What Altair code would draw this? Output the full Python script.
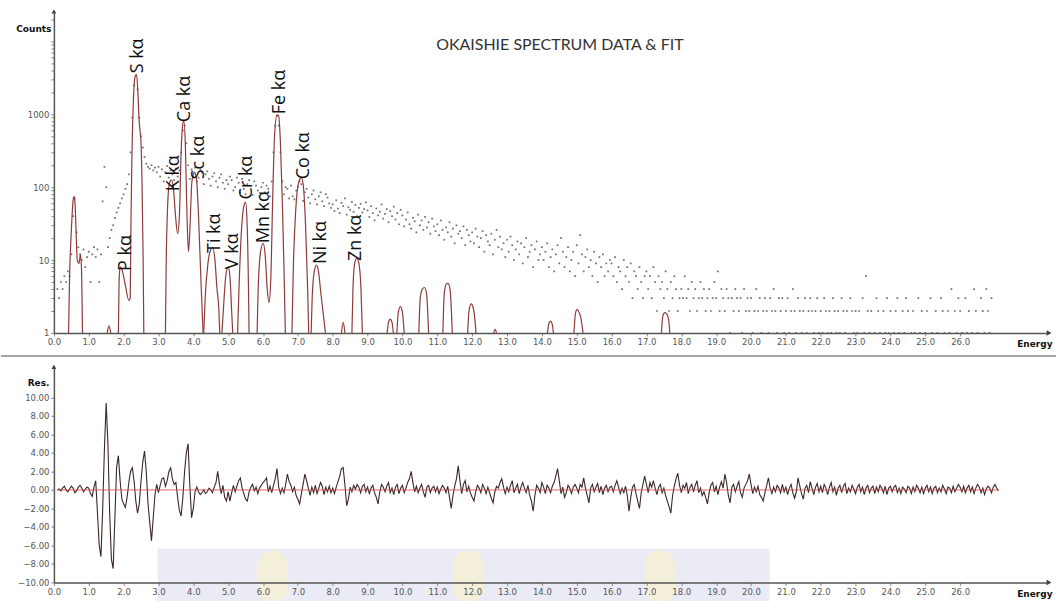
import altair as alt
import numpy as np
import pandas as pd

# ---------------------------------------------------------------
# Spectrum channels: first channel energy and channel width (keV)
# ---------------------------------------------------------------
E_START = 0.10
E_STEP = 0.05

# measured counts per channel (one row per keV)
counts = [
    4, 3, 5, 4, 6, 5, 7, 6, 12, 40, 70, 24, 15, 12, 10, 14, 8, 11,
    13, 5, 12, 15, 11, 14, 5, 12, 64, 190, 100, 15, 20, 26, 30, 38, 45, 52, 60, 70,
    80, 95, 110, 150, 300, 900, 2500, 3400, 2200, 900, 500, 350, 260, 210, 190, 180, 200, 170, 185, 160,
    190, 140, 175, 120, 160, 195, 135, 170, 150, 125, 180, 140, 170, 300, 600, 700, 400, 200, 130, 175,
    150, 185, 120, 135, 175, 160, 110, 150, 165, 130, 105, 140, 155, 120, 100, 135, 150, 115, 95, 125,
    110, 140, 125, 90, 100, 135, 115, 85, 130, 95, 80, 110, 125, 95, 78, 120, 105, 90, 75, 100,
    115, 85, 105, 95, 75, 120, 300, 700, 950, 700, 300, 120, 80, 100, 95, 70, 105, 75, 68, 90,
    100, 120, 110, 65, 85, 95, 72, 60, 80, 90, 68, 58, 75, 85, 64, 55, 80, 72, 60, 52,
    58, 47, 66, 51, 44, 61, 55, 70, 42, 53, 49, 63, 46, 57, 40, 52, 59, 45, 50, 62,
    48, 39, 55, 44, 35, 51, 41, 46, 58, 37, 43, 50, 33, 47, 40, 54, 36, 44, 31, 49,
    41, 29, 36, 45, 31, 27, 38, 34, 24, 42, 30, 35, 26, 39, 28, 33, 23, 37, 29, 25,
    31, 22, 35, 26, 19, 28, 24, 33, 21, 27, 17, 30, 23, 25, 20, 29, 16, 26, 22, 18,
    24, 17, 27, 21, 15, 20, 25, 13, 22, 18, 16, 23, 12, 19, 26, 15, 21, 14, 17, 11,
    19, 13, 21, 16, 10, 14, 18, 12, 17, 9, 15, 20, 11, 13, 16, 8, 14, 18, 10, 12,
    15, 10, 13, 17, 8, 11, 14, 7, 12, 16, 9, 20, 13, 8, 11, 15, 7, 10, 13, 6,
    16, 9, 22, 12, 7, 11, 14, 8, 10, 6, 13, 9, 5, 11, 8, 12, 6, 9, 7, 10,
    9, 6, 11, 5, 8, 7, 4, 10, 6, 8, 5, 9, 3, 7, 6, 4, 8, 5, 3, 6,
    7, 4, 6, 3, 8, 5, 2, 6, 4, 5, 3, 7, 4, 2, 5, 3, 6, 4, 2, 3,
    4, 3, 6, 3, 4, 2, 5, 3, 4, 2, 3, 5, 3, 4, 2, 3, 4, 2, 3, 5,
    3, 7, 2, 4, 3, 2, 4, 3, 1, 3, 2, 4, 3, 2, 3, 1, 4, 2, 3, 2,
    3, 1, 2, 4, 2, 3, 1, 2, 3, 2, 1, 3, 2, 4, 2, 1, 3, 2, 3, 1,
    2, 3, 1, 2, 4, 2, 1, 3, 2, 1, 2, 3, 1, 2, 3, 2, 1, 2, 3, 1,
    2, 1, 3, 2, 1, 2, 1, 3, 2, 1, 2, 1, 3, 2, 1, 2, 0, 3, 2, 1,
    2, 1, 2, 0, 3, 1, 6, 2, 1, 2, 0, 1, 3, 2, 1, 0, 2, 1, 3, 1,
    2, 0, 1, 2, 3, 1, 0, 2, 1, 3, 2, 0, 1, 2, 1, 0, 3, 1, 2, 0,
    1, 2, 0, 3, 1, 0, 2, 1, 0, 3, 2, 1, 0, 2, 1, 4, 0, 2, 1, 3,
    2, 1, 0, 3, 1, 2, 0, 1, 4, 2, 1, 0, 3, 2, 1, 4, 2, 1, 3,
]

# fit residuals per channel (one row per keV)
residuals = [
    0.0, 0.1, -0.1, 0.2, 0.4, 0.0, -0.2, 0.1, 0.4, 0.2, -0.3, -0.1, 0.3, 0.5, 0.2, -0.2, 0.1, 0.3,
    0.2, -0.4, -0.7, 0.3, 1.0, -2.5, -6.0, -7.2, -2.0, 4.5, 9.4, 5.0, -2.5, -7.5, -8.5, -3.0, 2.5, 3.7, 1.0, -1.0,
    -1.5, -1.9, -0.8, 0.8, 2.0, 2.4, 1.0, -1.2, -2.5, -1.5, 1.0, 3.0, 4.2, 2.0, -1.5, -3.5, -5.5, -3.0, -0.5, 0.6,
    -0.3, 0.5, 1.2, 1.3, 0.4, 1.0, 2.0, 2.4, 1.2, 0.6, 0.8, -0.8, -2.2, -2.8, -0.8, 2.0, 4.0, 5.0, 0.5, -3.0,
    -2.0, -0.2, 0.3, -0.2, -0.5, -0.3, 0.0, -0.4, -0.2, 0.2, 0.0, -0.3, 0.3, 0.8, 2.0, 0.6, -0.4, 0.5, -0.8, -1.2,
    -0.2, -1.2, -0.3, 0.5, -0.2, 0.4, 1.0, 1.3, 0.2, -0.4, -1.0, -1.2, -0.2, 0.3, 0.6, -0.1, 0.3, -0.4, 0.2, 0.5,
    0.8, 1.0, 1.3, -0.2, 0.4, -0.3, 0.5, 1.2, 2.3, 0.3, -0.4, 0.2, -0.3, 0.6, 1.7, 0.9, 0.5, -0.2, 0.3, -0.6,
    -1.0, -1.5, -0.4, 0.6, 1.7, 1.0, 0.2, -0.6, 0.3, -0.3, 0.5, -0.4, 0.2, 0.8, 0.4, -0.5, 0.3, -0.2, 0.4, -0.3,
    0.2, -0.4, 0.3, 0.9, 1.5, 2.3, 2.4, 0.5, -1.7, -1.0, 0.3, -0.2, 0.5, 0.1, 0.6, 0.3, -0.3, 0.4, 0.6, -0.2,
    0.3, -0.4, 0.2, 0.5, -0.3, -0.8, -1.5, -0.2, 0.6, 0.3, -0.2, 0.4, 0.8, -0.3, 0.2, -0.5, 0.3, 0.6, -0.4, 0.2,
    0.5, -0.3, 0.2, 0.8, 1.2, 2.0, 0.8, -0.2, 0.4, -0.3, 0.2, 0.6, -0.2, -0.8, 0.3, 0.5, -0.3, 0.2, 0.4, -0.2,
    0.3, -0.4, 0.1, 0.5, 0.2, -0.3, 0.4, -0.8, -2.0, -0.6, 0.4, 1.2, 2.6, 1.0, -0.4, 0.6, 1.0, -0.2, 0.4, -0.3,
    -0.8, -1.2, -0.2, 0.5, 0.2, -0.3, 0.6, 0.2, -0.4, 0.3, -0.3, -0.9, -1.4, -0.2, 0.4, 0.2, 0.8, 1.2, 0.3, -0.4,
    0.3, -0.2, 0.5, 1.0, -0.3, 0.2, 0.6, -0.4, 0.3, 0.8, 0.2, -0.3, 0.5, -0.6, -1.2, -2.3, -0.6, 0.5, 0.2, -0.3,
    0.8, 0.3, -0.4, 0.5, 0.2, -0.3, 0.4, 0.8, 1.5, 2.3, 1.0, -0.4, 0.3, -0.8, -0.3, 0.5, 0.2, -0.4, 0.3, 0.6,
    0.2, -0.3, 0.6, 0.3, 1.3, 0.2, -0.6, -1.4, 0.2, 0.6, -0.2, 0.3, 0.7, -0.3, 0.4, -0.5, 0.2, 0.5, -0.2, 0.3,
    0.4, -0.2, 0.5, 1.0, 0.3, -0.4, 0.2, -0.3, 0.4, -0.6, -2.3, -0.8, 0.3, 0.6, -0.4, -1.2, -2.0, -0.3, 0.6, 1.5,
    0.6, -0.3, 0.8, 0.3, 1.0, 0.2, -0.5, 0.3, 0.6, -0.3, 0.2, -0.6, -1.2, -1.8, -2.5, -0.6, 0.4, 1.2, 1.8, 0.5,
    -0.3, 0.5, 0.2, 0.8, -0.4, 0.3, 0.6, -0.2, 0.5, 1.0, -0.3, 0.2, -0.6, -0.2, -0.8, -1.5, -0.3, 0.5, 0.8, -0.2,
    0.4, -0.5, 0.3, 0.9, 0.2, 1.7, 0.8, -0.6, -1.4, 0.3, 0.6, -0.2, 0.4, 0.9, -0.3, -0.8, 0.2, 0.6, 1.0, 1.7,
    0.6, -0.4, 0.3, -0.2, 0.4, -0.5, -0.8, -1.2, -0.3, 0.5, 1.3, 0.2, -0.4, 0.3, -0.2, 0.5, 0.2, -0.3, 0.6, -0.2,
    0.3, -0.5, 0.2, 0.6, -0.3, -0.9, -0.2, 1.3, 0.4, -0.4, -1.0, 0.2, 0.5, -0.3, 0.9, 0.2, -0.5, 0.3, 0.7, -0.2,
    0.4, -0.3, 0.6, 0.2, -0.5, 0.3, 0.8, -0.2, 0.3, -0.6, 0.2, 0.5, -0.3, 0.4, 0.7, -0.4, 0.2, -0.2, 0.5, 0.1,
    -0.4, 0.3, 0.6, -0.2, 0.3, -0.5, 0.2, 0.5, -0.3, 0.2, 0.4, -0.4, 0.3, -0.2, 0.5, 0.2, -0.3, 0.4, -0.5, 0.2,
    0.4, -0.2, 0.3, 0.5, -0.3, 0.2, -0.4, 0.3, 0.1, -0.3, 0.4, 0.2, -0.4, 0.3, -0.2, 0.5, 0.2, -0.3, 0.3, -0.4,
    0.2, 0.5, -0.2, 0.3, -0.4, 0.2, 0.4, -0.3, 0.2, -0.2, 0.5, 0.1, -0.4, 0.3, 0.2, -0.3, 0.4, -0.2, 0.2, 0.6,
    0.3, -0.2, 0.4, -0.3, 0.2, 0.5, -0.2, 0.3, -0.4, 0.2, 0.6, 0.3, -0.3, 0.2, -0.5, 0.1, 0.4, 0.2, -0.3, 0.3, 0.6, 0.2, -0.1,
]

# fitted curve, one list of (energy keV, counts) vertices per fitted peak group
fit_peaks = [
    [(0.42, 1), (0.45, 6), (0.50, 25), (0.55, 65), (0.58, 75), (0.61, 55), (0.64, 22), (0.67, 10),
     (0.72, 9), (0.76, 12), (0.79, 8), (0.82, 1)],
    [(1.53, 1), (1.58, 1.25), (1.63, 1)],
    [(1.85, 1), (1.87, 5), (1.90, 8), (1.95, 7.5), (2.05, 4.5), (2.15, 2.8), (2.19, 3), (2.21, 30),
     (2.24, 300), (2.28, 1500), (2.33, 3300), (2.37, 3500), (2.41, 2000), (2.44, 900), (2.47, 600),
     (2.50, 400), (2.53, 100), (2.56, 10), (2.58, 1)],
    [(3.20, 1), (3.22, 8), (3.26, 50), (3.31, 110), (3.37, 125), (3.43, 95), (3.49, 40), (3.55, 23),
     (3.60, 40), (3.65, 300), (3.70, 750), (3.73, 800), (3.77, 400), (3.81, 60), (3.86, 13), (3.90, 25),
     (3.96, 120), (4.03, 160), (4.09, 130), (4.15, 40), (4.22, 5), (4.28, 1)],
    [(4.30, 1), (4.34, 3), (4.42, 9), (4.50, 14), (4.56, 15), (4.62, 10), (4.68, 4), (4.73, 2.2), (4.76, 1)],
    [(4.82, 1), (4.86, 2), (4.93, 6), (5.00, 8), (5.05, 6), (5.10, 2), (5.13, 1)],
    [(5.27, 1), (5.31, 4), (5.38, 25), (5.45, 55), (5.50, 62), (5.54, 35), (5.58, 5), (5.60, 1)],
    [(5.83, 1), (5.86, 4), (5.93, 13), (6.00, 17), (6.06, 12), (6.12, 4), (6.17, 2.6), (6.22, 5),
     (6.28, 80), (6.33, 500), (6.40, 980), (6.45, 950), (6.50, 400), (6.56, 50), (6.61, 5), (6.64, 1)],
    [(6.83, 1), (6.87, 8), (6.94, 50), (7.02, 115), (7.10, 135), (7.16, 100), (7.22, 30), (7.28, 4), (7.31, 1)],
    [(7.38, 1), (7.41, 3), (7.47, 7), (7.53, 8.5), (7.59, 7), (7.66, 3.5), (7.73, 1.8), (7.79, 1)],
    [(8.25, 1), (8.30, 1.4), (8.35, 1)],
    [(8.55, 1), (8.58, 4), (8.63, 9), (8.69, 10.5), (8.75, 9), (8.81, 4), (8.85, 1)],
    [(9.56, 1), (9.60, 1.4), (9.65, 1.55), (9.70, 1.4), (9.74, 1)],
    [(9.84, 1), (9.88, 1.9), (9.94, 2.3), (10.00, 1.9), (10.05, 1)],
    [(10.47, 1), (10.51, 3), (10.57, 4), (10.63, 4.2), (10.69, 3.5), (10.75, 1)],
    [(11.16, 1), (11.20, 3.5), (11.26, 4.7), (11.31, 4.8), (11.37, 3.8), (11.43, 1)],
    [(11.87, 1), (11.91, 2), (11.97, 2.5), (12.03, 2.2), (12.08, 1.5), (12.11, 1)],
    [(12.62, 1), (12.66, 1.12), (12.70, 1)],
    [(14.16, 1), (14.20, 1.35), (14.25, 1.45), (14.30, 1.3), (14.33, 1)],
    [(14.92, 1), (14.96, 1.8), (15.01, 2.1), (15.07, 1.9), (15.12, 1.6), (15.18, 1)],
    [(17.43, 1), (17.47, 1.7), (17.53, 1.9), (17.59, 1.8), (17.64, 1.5), (17.67, 1)],
]

# emission line labels: name, energy (keV) and counts at the foot of the label
line_names = ["P kα", "S kα", "K kα", "Ca kα", "Sc kα", "Ti kα", "V kα",
              "Cr kα", "Mn kα", "Fe kα", "Co kα", "Ni kα", "Zn kα"]
line_energy = [2.06, 2.42, 3.44, 3.75, 4.17, 4.61, 5.15, 5.53, 6.04, 6.50, 7.19, 7.65, 8.68]
line_counts = [7.1, 3650, 88, 780, 128, 12.5, 7.5, 68, 17, 1000, 128, 8.8, 9.7]

energy_ticks = list(range(0, 27))
count_ticks = [m * 10 ** p for p in range(0, 5) for m in range(1, 10) if m * 10 ** p <= 20000]
res_ticks = [-10, -8, -6, -4, -2, 0, 2, 4, 6, 8, 10]

TITLE = "OKAISHIE SPECTRUM DATA & FIT"

# ---------------------------------------------------------------
# tables
# ---------------------------------------------------------------
spec = pd.DataFrame({
    "energy": np.round(E_START + E_STEP * np.arange(len(counts)), 2),
    "counts": counts,
})
spec = spec[spec["counts"] > 0]

res = pd.DataFrame({
    "energy": np.round(E_START + E_STEP * np.arange(len(residuals)), 2),
    "res": residuals,
})

fit = pd.DataFrame(
    [{"energy": e, "counts": c, "peak": i} for i, pk in enumerate(fit_peaks) for e, c in pk]
)

labels = pd.DataFrame({"name": line_names, "energy": line_energy, "counts": line_counts})

# ---------------------------------------------------------------
# geometry and shared styling
# ---------------------------------------------------------------
W = 997
H_TOP = 322
H_BOT = 216
LABEL_FONT = "DejaVu Sans"
AX = dict(domainColor="#555555", domainWidth=1.5, tickColor="#888888", tickSize=3,
          labelFont=LABEL_FONT, labelFontSize=8.5, labelColor="#555555",
          titleFont=LABEL_FONT, titleFontSize=9, titleFontWeight="bold", titleColor="#111111",
          titleAngle=0, grid=False, zindex=1)

x_scale = alt.Scale(domain=[0, 28.55], nice=False, zero=False)
y_top_scale = alt.Scale(type="log", domain=[1, 25700], nice=False)
y_bot_scale = alt.Scale(domain=[-10, 13.3], nice=False, zero=False)


def energy_axis():
    return alt.Axis(values=energy_ticks, format=".1f", labelOverlap=False, labelFlush=False,
                    title="Energy", titleX=1000, titleY=11, titleAlign="right",
                    titleBaseline="middle", **AX)


x_top = alt.X("energy:Q", scale=x_scale, axis=energy_axis())
y_top = alt.Y("counts:Q", scale=y_top_scale, axis=alt.Axis(
    values=count_ticks, format="d",
    labelExpr="(datum.value == 1 || datum.value == 10 || datum.value == 100 || datum.value == 1000) ? datum.label : ''",
    title="Counts", titleX=-3, titleY=17, titleAlign="right", titleBaseline="middle", **AX))

x_bot = alt.X("energy:Q", scale=x_scale, axis=energy_axis())
y_bot = alt.Y("res:Q", scale=y_bot_scale, axis=alt.Axis(
    values=res_ticks, format=".2f",
    title="Res.", titleX=-5, titleY=16, titleAlign="right", titleBaseline="middle", **AX))

one = pd.DataFrame({"t": [TITLE]})

# ---------------------------------------------------------------
# upper panel: data points, fitted peaks, line labels
# ---------------------------------------------------------------
pts = alt.Chart(spec).mark_square(size=3, color="#333333", opacity=0.7).encode(x=x_top, y=y_top)

fit_line = alt.Chart(fit).mark_line(color="#8e3b3b", strokeWidth=1.2, interpolate="monotone").encode(
    x=x_top, y=y_top, detail="peak:N", order="energy:Q")

line_text = alt.Chart(labels).mark_text(
    angle=270, align="left", baseline="middle", font="Open Sans", fontSize=18, color="#111111"
).encode(x=x_top, y=y_top, text="name:N")

title_text = alt.Chart(one).mark_text(font="Lato", fontSize=16, color="#333333").encode(
    text="t:N", x=alt.value(507), y=alt.value(34))

y_arrow = alt.Chart(one).mark_point(shape="triangle-up", filled=True, size=22, color="#333333", opacity=1).encode(
    x=alt.value(0), y=alt.value(0))
x_arrow = alt.Chart(one).mark_point(shape="triangle-right", filled=True, size=30, color="#333333", opacity=1).encode(
    x=alt.value(W), y=alt.value(H_TOP))
top_margin = alt.Chart(one).mark_rule(color="white", strokeWidth=1).encode(
    x=alt.value(0), x2=alt.value(1), y=alt.value(-10))

top = alt.layer(pts, fit_line, line_text, title_text, y_arrow, x_arrow, top_margin).properties(
    width=W, height=H_TOP)

# ---------------------------------------------------------------
# lower panel: residuals
# ---------------------------------------------------------------
band = alt.Chart(one).mark_rect(color="#eaebf4").encode(
    x=alt.value(104), x2=alt.value(717), y=alt.value(182), y2=alt.value(236))
glows = [
    alt.Chart(one).mark_rect(color="#f3efd9", cornerRadius=14).encode(
        x=alt.value(cx - 15), x2=alt.value(cx + 15), y=alt.value(184), y2=alt.value(236))
    for cx in (219, 415, 607)
]

res_line = alt.Chart(res).mark_line(color="#3d2626", strokeWidth=1.1).encode(x=x_bot, y=y_bot)

zero_df = pd.DataFrame({"energy": [0.1], "energy_end": [27.1], "res": [0.0]})
zero_line = alt.Chart(zero_df).mark_rule(color="#d24b4b", strokeWidth=1, opacity=0.85).encode(
    x=x_bot, x2="energy_end:Q", y=y_bot)

separator = alt.Chart(one).mark_rule(color="#888888", strokeWidth=1.5).encode(
    x=alt.value(-53), x2=alt.value(1004), y=alt.value(-11))
y_arrow_b = alt.Chart(one).mark_point(shape="triangle-up", filled=True, size=22, color="#333333", opacity=1).encode(
    x=alt.value(0), y=alt.value(0))
x_arrow_b = alt.Chart(one).mark_point(shape="triangle-right", filled=True, size=30, color="#333333", opacity=1).encode(
    x=alt.value(W), y=alt.value(H_BOT))

bottom = alt.layer(band, *glows, res_line, zero_line, separator, y_arrow_b, x_arrow_b).properties(
    width=W, height=H_BOT)

chart = alt.vconcat(top, bottom, spacing=34, bounds="flush").properties(
    padding={"left": 0, "top": 0, "right": 0, "bottom": 0}, background="white"
).configure_view(strokeWidth=0)

chart.save("out.html", embed_options={"renderer": "svg", "actions": False})
